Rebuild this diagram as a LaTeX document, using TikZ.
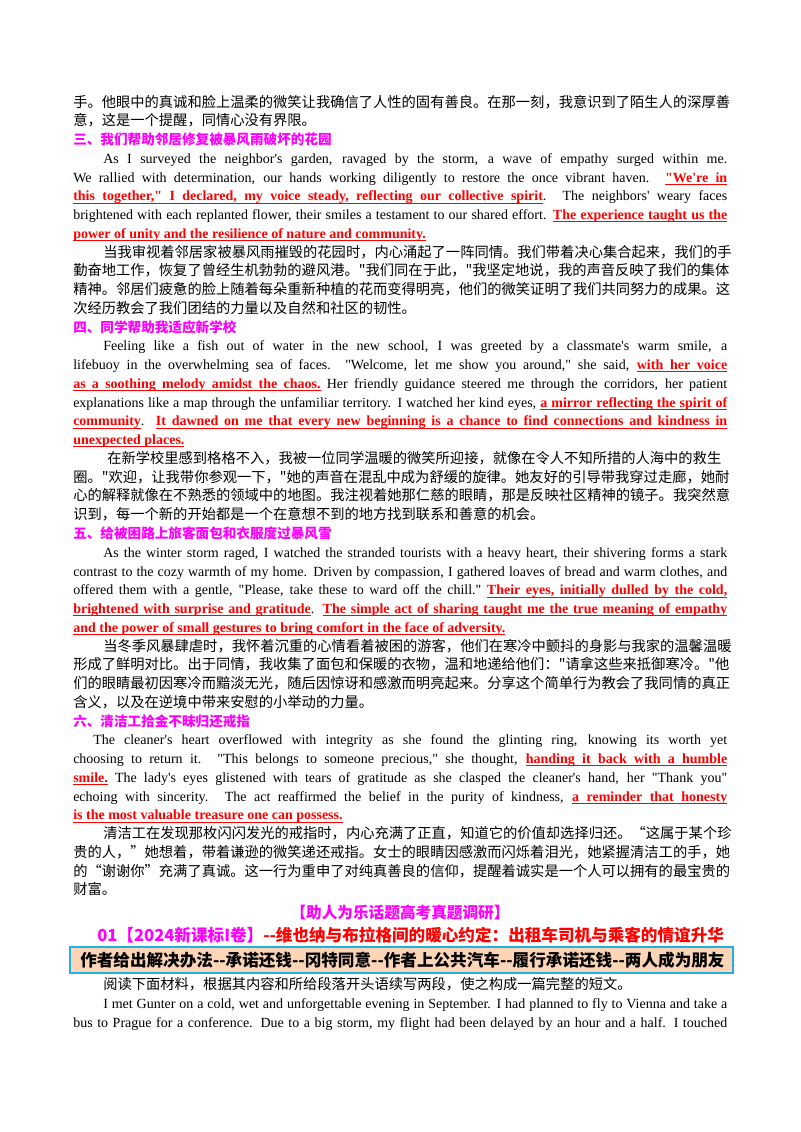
\documentclass[tikz,border=0pt]{standalone}
\usepackage{fontspec}
\setmainfont{Liberation Serif}[Ligatures=TeXOff]
\newfontfamily\cjk{Noto Sans CJK SC}[Scale=1.02]
\XeTeXlinebreaklocale "zh"
\XeTeXlinebreakskip=0pt plus 3pt
\definecolor{hmag}{HTML}{FF00FF}
\definecolor{rred}{HTML}{FF0000}
\definecolor{boxfill}{HTML}{FBD5B5}
\definecolor{boxline}{HTML}{1FB0E6}
\newcommand\rlW[1]{\setbox0\hbox{#1}\rlap{\vrule height -1.3pt depth 2.0pt width \wd0}\box0}
\newcommand\rlsp{\leaders\hrule height -1.3pt depth 2.0pt\hskip\fontdimen2\font plus \fontdimen3\font minus \fontdimen4\font\relax}
\def\rlA#1 #2\rlEnd{\rlW{#1}\if\relax\detokenize{#2}\relax\else\rlsp\rlA#2\rlEnd\fi}
\newcommand\rl[1]{{\color{rred}\bfseries\rlA#1 \rlEnd}}
\newcommand\LYv[1]{107+18.76*(#1-1)}
\newcommand\JL[3]{\node[anchor=base west,inner sep=0] at (#1,{\LYv{#2}}) {\hbox to \dimexpr0.75pt*(727-#1)\relax{#3}};}
\newcommand\NL[3]{\node[anchor=base west,inner sep=0] at (#1,{\LYv{#2}}) {#3};}
\newcommand\HD[2]{\node[anchor=base west,inner sep=0,text=hmag,font=\cjk\bfseries] at (73,{\LYv{#1}}) {#2};}
\begin{document}
\begin{tikzpicture}[x=0.75pt,y=-0.75pt,font=\fontsize{10.5}{12}\selectfont]
\useasboundingbox[fill=white] (0,0) rectangle (800,1132);
\JL{73}{1}{\cjk 手。他眼中的真诚和脸上温柔的微笑让我确信了人性的固有善良。在那一刻，我意识到了陌生人的深厚善}
\NL{73}{2}{\cjk 意，这是一个提醒，同情心没有界限。}
\HD{3}{三、我们帮助邻居修复被暴风雨破坏的花园}
\JL{103}{4}{As I surveyed the neighbor's garden, ravaged by the storm, a wave of empathy surged within me.}
\JL{73}{5}{We rallied with determination, our hands working diligently to restore the once vibrant haven. \rl{"We're in}}
\JL{73}{6}{\rl{this together," I declared, my voice steady, reflecting our collective spirit}. The neighbors' weary faces}
\JL{73}{7}{brightened with each replanted flower, their smiles a testament to our shared effort. \rl{The experience taught us the}}
\NL{73}{8}{\rl{power of unity and the resilience of nature and community.}}
\JL{103}{9}{\cjk 当我审视着邻居家被暴风雨摧毁的花园时，内心涌起了一阵同情。我们带着决心集合起来，我们的手}
\JL{73}{10}{\cjk 勤奋地工作，恢复了曾经生机勃勃的避风港。"我们同在于此，"我坚定地说，我的声音反映了我们的集体}
\JL{73}{11}{\cjk 精神。邻居们疲惫的脸上随着每朵重新种植的花而变得明亮，他们的微笑证明了我们共同努力的成果。这}
\NL{73}{12}{\cjk 次经历教会了我们团结的力量以及自然和社区的韧性。}
\HD{13}{四、同学帮助我适应新学校}
\JL{103}{14}{Feeling like a fish out of water in the new school, I was greeted by a classmate's warm smile, a}
\JL{73}{15}{lifebuoy in the overwhelming sea of faces. "Welcome, let me show you around," she said, \rl{with her voice}}
\JL{73}{16}{\rl{as a soothing melody amidst the chaos.} Her friendly guidance steered me through the corridors, her patient}
\JL{73}{17}{explanations like a map through the unfamiliar territory. I watched her kind eyes, \rl{a mirror reflecting the spirit of}}
\JL{73}{18}{\rl{community}. \rl{It dawned on me that every new beginning is a chance to find connections and kindness in}}
\NL{73}{19}{\rl{unexpected places.}}
\JL{107}{20}{\cjk 在新学校里感到格格不入，我被一位同学温暖的微笑所迎接，就像在令人不知所措的人海中的救生}
\JL{73}{21}{\cjk 圈。"欢迎，让我带你参观一下，"她的声音在混乱中成为舒缓的旋律。她友好的引导带我穿过走廊，她耐}
\JL{73}{22}{\cjk 心的解释就像在不熟悉的领域中的地图。我注视着她那仁慈的眼睛，那是反映社区精神的镜子。我突然意}
\NL{73}{23}{\cjk 识到，每一个新的开始都是一个在意想不到的地方找到联系和善意的机会。}
\HD{24}{五、给被困路上旅客面包和衣服度过暴风雪}
\JL{103}{25}{As the winter storm raged, I watched the stranded tourists with a heavy heart, their shivering forms a stark}
\JL{73}{26}{contrast to the cozy warmth of my home. Driven by compassion, I gathered loaves of bread and warm clothes, and}
\JL{73}{27}{offered them with a gentle, "Please, take these to ward off the chill." \rl{Their eyes, initially dulled by the cold,}}
\JL{73}{28}{\rl{brightened with surprise and gratitude}. \rl{The simple act of sharing taught me the true meaning of empathy}}
\NL{73}{29}{\rl{and the power of small gestures to bring comfort in the face of adversity.}}
\JL{103}{30}{\cjk 当冬季风暴肆虐时，我怀着沉重的心情看着被困的游客，他们在寒冷中颤抖的身影与我家的温馨温暖}
\JL{73}{31}{\cjk 形成了鲜明对比。出于同情，我收集了面包和保暖的衣物，温和地递给他们："请拿这些来抵御寒冷。"他}
\JL{73}{32}{\cjk 们的眼睛最初因寒冷而黯淡无光，随后因惊讶和感激而明亮起来。分享这个简单行为教会了我同情的真正}
\NL{73}{33}{\cjk 含义，以及在逆境中带来安慰的小举动的力量。}
\HD{34}{六、清洁工拾金不昧归还戒指}
\JL{93}{35}{The cleaner's heart overflowed with integrity as she found the glinting ring, knowing its worth yet}
\JL{73}{36}{choosing to return it. "This belongs to someone precious," she thought, \rl{handing it back with a humble}}
\JL{73}{37}{\rl{smile.} The lady's eyes glistened with tears of gratitude as she clasped the cleaner's hand, her "Thank you"}
\JL{73}{38}{echoing with sincerity. The act reaffirmed the belief in the purity of kindness, \rl{a reminder that honesty}}
\NL{73}{39}{\rl{is the most valuable treasure one can possess.}}
\JL{103}{40}{\cjk 清洁工在发现那枚闪闪发光的戒指时，内心充满了正直，知道它的价值却选择归还。“这属于某个珍}
\JL{73}{41}{\cjk 贵的人，”她想着，带着谦逊的微笑递还戒指。女士的眼睛因感激而闪烁着泪光，她紧握清洁工的手，她}
\JL{73}{42}{\cjk 的“谢谢你”充满了真诚。这一行为重申了对纯真善良的信仰，提醒着诚实是一个人可以拥有的最宝贵的}
\NL{73}{43}{\cjk 财富。}
\node[text=hmag,font=\cjk\bfseries\fontsize{11.5}{13}\selectfont,inner sep=0] (title) at (400,913) {【助人为乐话题高考真题调研】};
\node[anchor=west,inner sep=0,font=\cjk\bfseries\fontsize{12.2}{14}\selectfont] (sub) at (97,935)
  {\hbox to 458pt{{\color{hmag}01【2024新课标I卷】}{\color{rred}--维也纳与布拉格间的暖心约定：出租车司机与乘客的情谊升华}}};
\node[draw=boxline,line width=1.6pt,fill=boxfill,minimum width=663*0.75pt,minimum height=26*0.75pt,inner sep=0] (box) at (401.5,960) {};
\node[anchor=west,inner sep=0,font=\cjk\bfseries\fontsize{12.2}{14}\selectfont] (boxt) at (80,960)
  {\hbox to 479pt{作者给出解决办法--承诺还钱--冈特同意--作者上公共汽车--履行承诺还钱--两人成为朋友}};
\node[anchor=base west,inner sep=0] (read) at (103,989) {\cjk 阅读下面材料，根据其内容和所给段落开头语续写两段，使之构成一篇完整的短文。};
\node[anchor=base west,inner sep=0] (p1) at (103,1008) {\hbox to 468pt{I met Gunter on a cold, wet and unforgettable evening in September. I had planned to fly to Vienna and take a}};
\node[anchor=base west,inner sep=0] (p2) at (73,1027) {\hbox to 490.5pt{bus to Prague for a conference. Due to a big storm, my flight had been delayed by an hour and a half. I touched}};
\end{tikzpicture}
\end{document}
